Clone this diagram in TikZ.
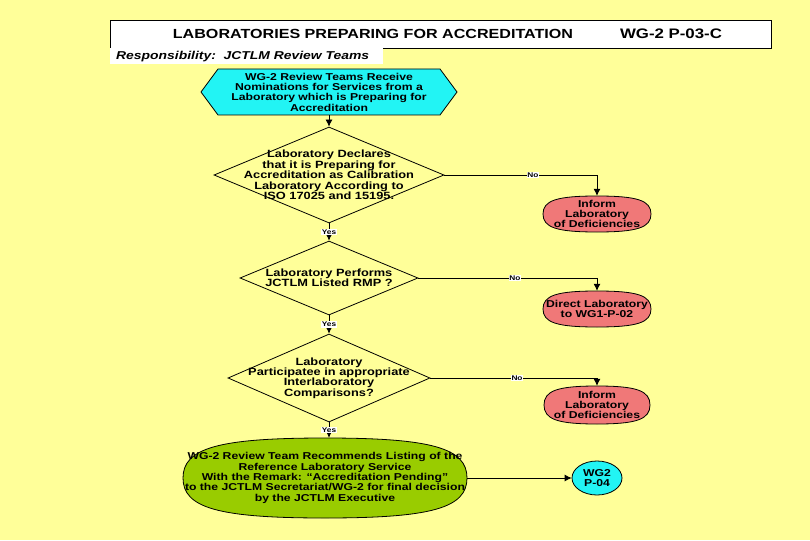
\documentclass[tikz,border=0pt]{standalone}
\usepackage{fontspec}
\setmainfont{Liberation Sans}[FakeStretch=1.22]
\usetikzlibrary{shapes.geometric,arrows.meta}
\definecolor{bgyellow}{HTML}{FFFF99}
\definecolor{hexcyan}{HTML}{22F4F4}
\definecolor{ovred}{HTML}{F07878}
\definecolor{ovgreen}{HTML}{99CC00}
% rounded (super-elliptic) outline: centre coordinate, half-width, half-height, fill colour
\newcommand\supovalshape[4]{%
  \filldraw[line width=0.8pt, fill=#4]
    ([xshift={-#2pt}]#1)
      .. controls ([xshift={-#2pt}, yshift={0.75*#3pt}]#1) and ([xshift={-0.75*#2pt}, yshift={#3pt}]#1) .. ([yshift={#3pt}]#1)
      .. controls ([xshift={0.75*#2pt}, yshift={#3pt}]#1) and ([xshift={#2pt}, yshift={0.75*#3pt}]#1) .. ([xshift={#2pt}]#1)
      .. controls ([xshift={#2pt}, yshift={-0.75*#3pt}]#1) and ([xshift={0.75*#2pt}, yshift={-#3pt}]#1) .. ([yshift={-#3pt}]#1)
      .. controls ([xshift={-0.75*#2pt}, yshift={-#3pt}]#1) and ([xshift={-#2pt}, yshift={-0.75*#3pt}]#1) .. ([xshift={-#2pt}]#1)
      -- cycle;}
\begin{document}
\begin{tikzpicture}[x=1pt,y=-1pt,
  txt/.style={font=\fontsize{10}{10.3}\selectfont\bfseries, align=center, inner sep=0pt},
  dtxt/.style={font=\fontsize{10.5}{10.4}\selectfont\bfseries, align=center, inner sep=0pt},
  dia/.style={diamond, draw, line width=0.8pt, inner sep=0pt},
  lab/.style={font=\fontsize{6.8}{6.8}\selectfont\bfseries, fill=white, inner sep=0.8pt},
  arr/.style={draw, line width=0.8pt, -{Latex[length=7pt,width=7pt]}},
  ]
\useasboundingbox (0,0) rectangle (810,540);
\fill[bgyellow] (0,0) rectangle (810,540);
% title
\node[draw, line width=1pt, fill=white, minimum width=661pt, minimum height=28pt, anchor=north west, inner sep=0pt] (title) at (110,20) {};
\node[font=\fontsize{13.2}{13.2}\selectfont\bfseries, inner sep=0pt] (titletext) at (373,34) {LABORATORIES PREPARING FOR ACCREDITATION};
\node[font=\fontsize{13.8}{13.8}\selectfont\bfseries, inner sep=0pt] (titlecode) at (671,34) {WG-2 P-03-C};
\node[fill=white, minimum width=273pt, minimum height=16pt, anchor=north west, inner sep=0pt] (resp) at (110,48) {};
\node[font=\fontsize{11.4}{11.4}\selectfont\bfseries\itshape, anchor=west, inner sep=0pt] (resptext) at (116,56.5) {Responsibility:\ \ JCTLM Review Teams};
% hexagon
\coordinate (hexc) at (329,92);
\filldraw[line width=0.8pt, fill=hexcyan]
  ([xshift=-128pt]hexc) -- ([xshift=-111pt,yshift=23pt]hexc) -- ([xshift=111pt,yshift=23pt]hexc)
  -- ([xshift=128pt]hexc) -- ([xshift=111pt,yshift=-23pt]hexc) -- ([xshift=-111pt,yshift=-23pt]hexc) -- cycle;
\node[txt, minimum width=256pt, minimum height=46pt] (hex) at (hexc)
  {WG-2 Review Teams Receive\\Nominations for Services from a\\Laboratory which is Preparing for\\Accreditation};
% decisions
\node[dia, minimum width=230pt, minimum height=96pt,
      label={[dtxt]center:{Laboratory Declares\\that it is Preparing for\\Accreditation as Calibration\\Laboratory According to\\ISO 17025 and 15195.}}] (d1) at (329,175) {};
\node[dia, minimum width=178pt, minimum height=74pt,
      label={[dtxt]center:{Laboratory Performs\\JCTLM Listed RMP ?}}] (d2) at (329,278) {};
\node[dia, minimum width=202pt, minimum height=88pt,
      label={[dtxt]center:{Laboratory\\Participatee in appropriate\\Interlaboratory\\Comparisons?}}] (d3) at (329,378) {};
% outcomes
\coordinate (e1c) at (597,214);
\supovalshape{e1c}{54}{18}{ovred}
\node[txt, minimum width=108pt, minimum height=36pt] (e1) at (e1c) {Inform\\Laboratory\\of Deficiencies};
\coordinate (e2c) at (597,309);
\supovalshape{e2c}{54}{18}{ovred}
\node[txt, minimum width=108pt, minimum height=36pt] (e2) at (e2c) {Direct Laboratory\\to WG1-P-02};
\coordinate (e3c) at (597,405);
\supovalshape{e3c}{53}{19}{ovred}
\node[txt, minimum width=106pt, minimum height=38pt] (e3) at (e3c) {Inform\\Laboratory\\of Deficiencies};
\coordinate (greenc) at (325,478);
\supovalshape{greenc}{142}{40}{ovgreen}
\node[txt, minimum width=284pt, minimum height=80pt] (green) at (greenc)
  {WG-2 Review Team Recommends Listing of the\\Reference Laboratory Service\\With the Remark: ``Accreditation Pending''\\to the JCTLM Secretariat/WG-2 for final decision\\by the JCTLM Executive};
\node[ellipse, draw, line width=0.8pt, inner sep=0pt, fill=hexcyan, minimum width=50pt, minimum height=34pt,
      label={[txt]center:{WG2\\P-04}}] (wg2) at (597,478) {};
% connectors
\draw[arr] (hex.south) -- (d1.north);
\draw[arr] (d1.south) -- node[lab]{Yes} (d2.north);
\draw[arr] (d2.south) -- node[lab]{Yes} (d3.north);
\draw[arr] (d3.south) -- node[lab]{Yes} (d3.south |- green.north);
\draw[arr] (d1.east) -| node[lab, pos=0.29]{No} (e1.north);
\draw[arr] (d2.east) -| node[lab, pos=0.27]{No} (e2.north);
\draw[arr] (d3.east) -| node[lab, pos=0.26]{No} (e3.north);
\draw[arr] (green.east) -- (wg2.west);
\end{tikzpicture}
\end{document}
